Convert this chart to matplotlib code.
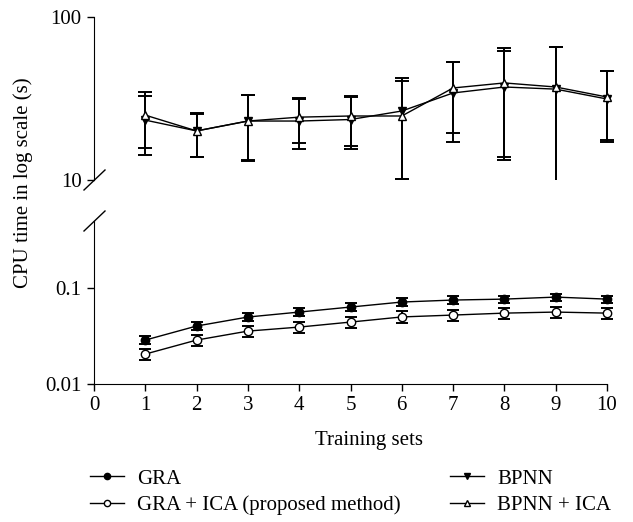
import numpy as np
import matplotlib
matplotlib.use('Agg')
import matplotlib.pyplot as plt
from matplotlib.lines import Line2D

plt.rcParams['font.family'] = ['Liberation Serif', 'DejaVu Serif']

# Training sets
sets = np.arange(1, 11)

# Upper panel (seconds)
bpnn = [23.3, 20.0, 23.0, 23.0, 23.5, 26.5, 34.2, 37.2, 36.1, 31.4]
bpnn_hi = [32.7, 25.4, 33.0, 31.4, 32.2, 40.5, 53.0, 61.9, 65.5, 46.7]
bpnn_lo = [14.2, 13.8, 13.0, 15.5, 15.5, 10.1, 17.1, 13.2, 9.0, 17.1]
bpnn_ica = [25.0, 20.0, 23.0, 24.3, 24.7, 24.7, 36.7, 39.4, 37.2, 32.3]
bpnn_ica_hi = [34.7, 25.7, 33.3, 31.8, 32.7, 42.3, 53.0, 64.5, 65.5, 46.7]
bpnn_ica_lo = [15.7, 13.8, 13.2, 16.9, 16.2, 10.1, 19.4, 13.8, 9.0, 17.6]

# Lower panel (seconds)
gra = [0.0287, 0.0402, 0.0499, 0.0562, 0.0634, 0.0715, 0.0750, 0.0767, 0.0805, 0.0767]
gra_ica = [0.0205, 0.0287, 0.0356, 0.0392, 0.0442, 0.0500, 0.0523, 0.0548, 0.0562, 0.0548]
gra_err = 0.09
gra_ica_err = 0.14

W, H = 633, 522
FS = 15
fig = plt.figure(figsize=(W / 100, H / 100), dpi=100)

def px_axes(x0, y0, x1, y1):
    return fig.add_axes([x0 / W, 1 - y1 / H, (x1 - x0) / W, (y1 - y0) / H])

# top axes is a bit wider than the bottom one so the x=10 bars are not cut
ax_top = px_axes(94, 17, 607 + 51.3 * 0.5, 180)
ax_bot = px_axes(94, 221, 607, 384)

eb = dict(color='black', lw=1.0, elinewidth=1.4, capthick=1.4, ms=6)

def err(mean, lo, hi):
    mean = np.array(mean)
    return [mean - np.array(lo), np.array(hi) - mean]

ax_top.errorbar(sets, bpnn, yerr=err(bpnn, bpnn_lo, bpnn_hi), marker='v',
                mfc='black', mec='black', capsize=5, **eb)
ax_top.errorbar(sets, bpnn_ica, yerr=err(bpnn_ica, bpnn_ica_lo, bpnn_ica_hi), marker='^',
                mfc='white', mec='black', capsize=5, **eb)

g = np.array(gra)
gi = np.array(gra_ica)
for art in (
    ax_bot.errorbar(sets, g, yerr=[g * gra_err, g * gra_err], marker='o',
                    mfc='black', mec='black', capsize=4, **eb),
    ax_bot.errorbar(sets, gi, yerr=[gi * gra_ica_err, gi * gra_ica_err], marker='o',
                    mfc='white', mec='black', capsize=4, **eb),
):
    for child in art.get_children():
        child.set_clip_on(False)

for ax in (ax_top, ax_bot):
    ax.set_yscale('log')
    ax.spines['top'].set_visible(False)
    ax.spines['right'].set_visible(False)
    ax.tick_params(direction='out', length=5, width=1, labelsize=FS, pad=4)

ax_top.set_xlim(0, 10.5)
ax_top.set_ylim(10, 100)
ax_top.set_yticks([10, 100])
ax_top.set_yticklabels(['10', '100'])
ax_top.spines['bottom'].set_visible(False)
ax_top.set_xticks([])
ax_top.minorticks_off()

ax_bot.set_xlim(0, 10)
ax_bot.set_ylim(0.01, 0.5)
ax_bot.set_yticks([0.01, 0.1])
ax_bot.set_yticklabels(['0.01', '0.1'])
ax_bot.set_xticks(range(0, 11))
ax_bot.minorticks_off()

# break marks
for yc in (180, 221):
    fig.add_artist(Line2D([84 / W, 105 / W], [1 - (yc + 10) / H, 1 - (yc - 10) / H],
                          color='black', lw=1.0))

fig.text(23 / W, 1 - 183 / H, 'CPU time in log scale (s)', rotation=90,
         ha='center', va='center', fontsize=FS)
fig.text(369 / W, 1 - 440 / H, 'Training sets', ha='center', va='center', fontsize=FS)

def handle(marker, face):
    return Line2D([], [], color='black', lw=1, marker=marker, ms=4.5, mfc=face, mec='black')

leg_style = dict(loc='upper left', frameon=False, fontsize=FS, handlelength=1.65,
                 handletextpad=0.6, labelspacing=0.33, borderaxespad=0, borderpad=0)
fig.legend([handle('o', 'black'), handle('o', 'white')],
           ['GRA', 'GRA + ICA (proposed method)'],
           bbox_to_anchor=(90 / W, 1 - 469 / H), **leg_style)
fig.legend([handle('v', 'black'), handle('^', 'white')],
           ['BPNN', 'BPNN + ICA'],
           bbox_to_anchor=(450 / W, 1 - 469 / H), **leg_style)

fig.savefig('out.png', dpi=100)
